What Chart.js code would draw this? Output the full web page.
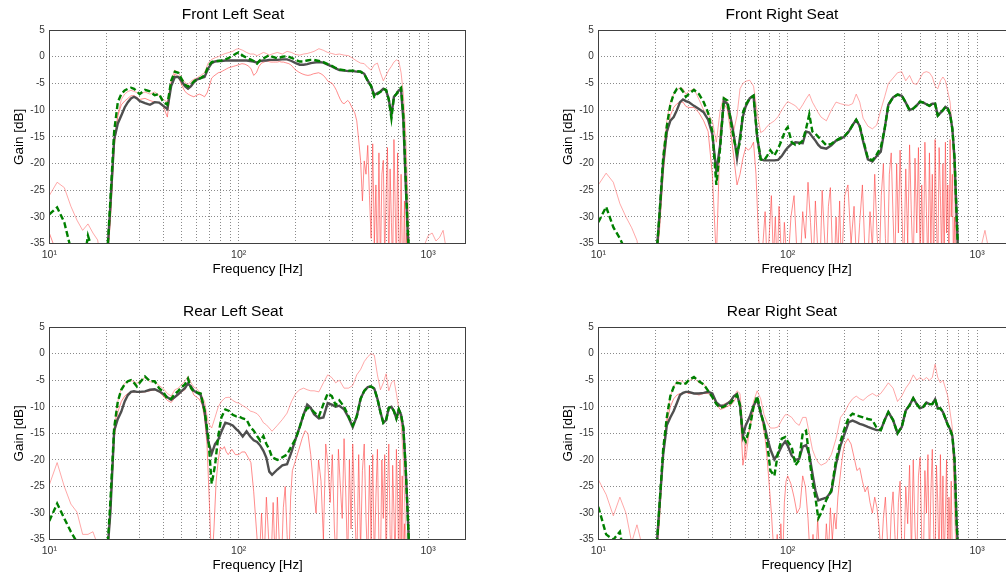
<!DOCTYPE html>
<html><head><meta charset="utf-8">
<script src="https://cdn.jsdelivr.net/npm/chart.js@4.4.0/dist/chart.umd.min.js"></script>
<style>
html,body{margin:0;padding:0;background:#fff;overflow:hidden;width:1006px;height:578px;position:relative;}
canvas{position:absolute;}
</style></head><body>
<canvas id="c0" width="470" height="280" style="left:0px;top:0px"></canvas>
<canvas id="c1" width="470" height="280" style="left:549px;top:0px"></canvas>
<canvas id="c2" width="470" height="279" style="left:0px;top:297px"></canvas>
<canvas id="c3" width="470" height="279" style="left:549px;top:297px"></canvas>
<script>
const TITLES = ['Front Left Seat','Front Right Seat','Rear Left Seat','Rear Right Seat'];
const Y_TICKS = [-35,-30,-25,-20,-15,-10,-5,0,5];
const X_TICKS = [10,20,30,40,50,60,70,80,90,100,200,300,400,500,600,700,800,900,1000];
const X_LABELS = {10:'10\u00B9',100:'10\u00B2',1000:'10\u00B3'};

// frequency grid of the smooth curves
const FREQ = [10,11,12,13,14,15,16,17,18,19,20,
21,22,23,24,25,26,27,28,29,30,
32,34,36,38,40,42,44,46,48,50,52,54,56,58,60,
63,66,69,72,75,78,81,85,89,93,97,
100,105,110,115,120,125,130,135,140,145,150,
160,170,180,190,200,210,220,230,240,250,
265,280,295,310,325,340,
360,380,400,420,440,460,480,500,520,540,560,580,600,620,640,660,680,700,720,740,760,780,800,
850,900,950,1000,1050,1100,1150,1200,1300,1400,1500,1585];

// finer frequency grid of the noisy lower red curves
const FREQ_LO = [10,11,12,13,14,15,16,17,18,19,20,
21,22,23,24,25,26,27,28,29,30,
32,34,36,38,40,42,44,46,48,50,52,54,56,58,60,
62,64,66,68,70,72,74,76,78,80,82,84,86,88,90,92,94,96,98,100,
104,108,112,116,120,124,128,132,136,140,144,148,152,156,160,164,168,172,176,180,184,188,192,196,200,
208,216,224,232,240,248,256,264,272,280,288,296,304,312,320,328,336,344,352,360,368,376,384,392,400,
410,420,430,440,450,460,470,480,490,500,510,520,530,540,550,560,570,580,590,600,
610,620,630,640,650,660,670,680,690,700,710,720,730,740,750,760,770,780,790,800,
850,900,950,1000,1050,1100,1150,1200,1300,1400,1500,1585];

// ---------- Front Left ----------
const FL_UPPER = [-26,-23.5,-24.5,-28,-30.6,-32.5,-31.3,-33,-34.3,-40,-40,
-30,-16,-11,-8,-7,-6.5,-6.3,-6.5,-6.7,-7,
-6.6,-7,-6.6,-7.2,-8,-8.5,-4.5,-2.5,-3,-4,-4.8,-5.2,-4.6,-4.2,-4,
-3.5,-3,-1.2,-0.5,-0.2,0,0.3,0.6,0.8,1,1.4,
1.5,1.2,0.8,0.5,0.5,0.2,0.5,0.8,0.6,0.3,0.5,
0.8,0.5,1,0.8,0.4,0.3,0.5,0.6,0.8,1,
1.5,1.2,0.8,0.6,0.4,0.5,
0.3,0.2,-0.3,-0.8,-1.2,-1.3,-2,-2.5,-1.5,-1.2,-3,-4.5,-3.5,-2.5,-1.8,-1,-0.6,-0.8,-3,-7,-14,-25,-40,
-40,-40,-35.5,-33.5,-33,-34.5,-33.8,-32.5,-40,-40,-40,-40];
const FL_LOWER = [-33,-37,-40,-40,-40,-40,-40,-40,-40,-40,-40,
-31,-17,-11,-9,-8.3,-7.8,-7.3,-7.3,-7.6,-8,
-7.8,-8.2,-8.5,-8.6,-9.3,-11.3,-5,-3.2,-3.7,-5.3,-6.5,-7,-7.3,-7.5,-7.2,
-7,-7.2,-7.5,-6.8,-5.5,-4,-3.6,-3.3,-3,-2.9,-2.7,-2.5,-2.3,-2.1,-2,-1.9,-1.8,-1.7,-1.6,-1.5,
-1.3,-1.4,-1.7,-2.2,-3.5,-3,-1.8,-1.2,-1,-0.8,-0.9,-1,-1,-1,-1,-0.9,-1,-1,-1.1,-1.2,-1.3,-1.5,-1.8,-2.2,-2.5,
-2.9,-3.2,-3.4,-3.5,-3.4,-3.2,-3.1,-3,-3.2,-3.5,-4,-4.6,-4.8,-5,-5.6,-6.3,-7.2,-8,-8.6,-8.8,-8.5,-8.2,-8.5,-9.2,-9.8,
-10.5,-12,-15.6,-19.4,-27,-19.5,-22,-16.6,-26,-34,-16.3,-35,-24,-40,-18,-40,-22,-19.4,-38,-26,
-17,-40,-21,-31,-40,-15.5,-28,-40,-18,-33,-40,-22,-36,-40,-27,-40,-33,-40,-40,-40,
-40,-40,-40,-40,-40,-40,-40,-40,-40,-40,-40,-40];
const FL_MEAN = [-40,-40,-40,-40,-40,-40,-40,-40,-40,-40,-40,
-28,-15.5,-12.5,-11,-9.5,-8.5,-7.8,-7.5,-7.8,-8.3,
-8.7,-9,-8.5,-8.6,-9.2,-9.8,-5.5,-3.8,-3.8,-4.6,-5.5,-6,-5.5,-4.8,-4.3,
-4,-3.8,-2.2,-1.2,-0.9,-0.8,-0.8,-0.7,-0.7,-0.7,-0.7,
-0.7,-0.7,-0.7,-0.8,-0.9,-1.1,-0.8,-0.7,-0.7,-0.6,-0.6,
-0.6,-0.5,-0.5,-0.8,-1.2,-1.5,-1.5,-1.4,-1.2,-1.1,
-1,-1.1,-1.5,-1.8,-2.2,-2.5,
-2.6,-2.7,-2.7,-2.8,-2.8,-3.2,-4.5,-5.5,-7.2,-6.8,-6.5,-6,-6.3,-8,-11,-7.5,-7,-6.3,-6.2,-12,-23,-33,-40,
-40,-40,-40,-40,-40,-40,-40,-40,-40,-40,-40,-40];
const FL_GREEN = [-29.5,-28.2,-31,-36,-40,-40,-33.5,-36.5,-40,-40,-40,
-27,-14,-8.5,-7,-6.3,-6,-5.8,-6,-6.5,-7,
-6.2,-6.5,-7.2,-7,-8.5,-9,-4.5,-2.8,-3,-4.2,-5.2,-5.6,-5.2,-4.6,-4.2,
-4,-3.5,-1.8,-1,-0.8,-0.8,-0.7,-0.5,-0.2,0.2,0.6,
0.8,0.2,-0.2,-0.5,-0.8,-1.3,-0.6,-0.3,0,0.3,0,
-0.3,0,0.1,-0.2,-0.6,-0.9,-0.9,-0.7,-0.6,-0.6,
-0.8,-1,-1.4,-1.7,-2.1,-2.4,
-2.5,-2.6,-2.6,-2.7,-2.8,-3.3,-4.5,-5.5,-7.5,-7,-6.6,-6,-6.2,-8,-11.5,-7.5,-7,-6.2,-5.8,-11,-22,-32,-40,
-40,-40,-40,-40,-40,-40,-40,-40,-40,-40,-40,-40];

// ---------- Front Right ----------
const FR_UPPER = [-24,-21.8,-23.5,-27.5,-30,-32,-34.4,-40,-40,-40,-40,
-32,-18,-12,-8.5,-7,-6.2,-5.8,-6,-7,-6.5,
-6,-8,-10,-10.8,-12,-16,-10,-7.5,-8.5,-11,-13.7,-11,-6,-5,-4.6,
-4.4,-5.5,-10.5,-14.2,-13.8,-13,-12.5,-12,-11.2,-10,-9,
-8.4,-8.8,-9.2,-10,-9,-7.9,-7,-8.5,-9.5,-10.5,-11.3,
-12,-10,-8.5,-8.8,-9,-9.1,-8.8,-7,-8.5,-11.5,
-13,-13.5,-12.8,-10,-7.5,-5,
-4,-3,-2.8,-4.5,-3.5,-5,-5.2,-4,-3,-2.8,-3,-3.8,-5.5,-6,-4.5,-3.8,-4.5,-6.5,-8.5,-14,-25,-40,-40,
-40,-40,-40,-40,-35.5,-32.5,-36,-40,-40,-40,-40,-40];
const FR_LOWER = [-40,-40,-40,-40,-40,-40,-40,-40,-40,-40,-40,
-33,-22,-15,-11,-9.5,-8.8,-8.5,-8.5,-9.3,-9.5,
-9.5,-10.5,-12,-14,-22,-38,-14,-8.8,-9.8,-14,-19,-24,-22,-19,-17,
-17.5,-17,-16,-22,-33,-40,-35,-29,-40,-33,-26,-38,-30,-40,-28,-35,-40,-31,-36,-40,
-30,-26,-37,-40,-29,-34,-23.5,-31,-40,-27,-36,-40,-25,-33,-40,-28,-24.5,-36,-40,-30,-38,-27,-40,-33,-26,
-24,-35,-28,-40,-31,-24,-37,-40,-29,-36,-22,-33,-40,-26,-20,-34,-40,-22,-18,-30,-40,-20,-33,-17.5,-28,
-40,-21,-35,-16.5,-30,-40,-19,-33,-17,-38,-24,-40,-16,-29,-40,-18,-35,-22,-40,-15.5,
-31,-40,-17,-26,-38,-20,-40,-16,-33,-24,-40,-15.5,-30,-22,-38,-30,-40,-40,-40,-40,
-40,-40,-40,-40,-40,-40,-40,-40,-40,-40,-40,-40];
const FR_MEAN = [-40,-40,-40,-40,-40,-40,-40,-40,-40,-40,-40,
-30,-20,-14,-12,-11.3,-10,-8.5,-8,-8.3,-8.5,
-9.2,-9.8,-10.4,-11.8,-14.5,-21.5,-16.5,-8.3,-8.8,-11.5,-14.8,-19,-15,-11.2,-9.3,
-7.8,-7.3,-15,-19.2,-19.4,-19.4,-19.4,-19.4,-19.3,-18.6,-17.6,
-17,-16.3,-16,-16.1,-16.2,-14,-14.2,-15,-15.7,-16.5,-17,
-17.2,-16.6,-15.7,-15.4,-14.9,-14,-12.8,-11.8,-13,-15.8,
-19.2,-19.6,-18.6,-17.8,-13.5,-9,
-7.6,-7.1,-7.3,-8.6,-10,-9.7,-9.1,-8.4,-8.6,-8.9,-9.2,-8.8,-8.8,-11,-10.5,-10,-9.4,-9.7,-10.8,-13.5,-19,-30,-40,
-40,-40,-40,-40,-40,-40,-40,-40,-40,-40,-40,-40];
const FR_GREEN = [-31,-28.1,-31.9,-34,-36.5,-40,-40,-40,-40,-40,-40,
-30,-19,-13,-9,-7,-6,-5.8,-6.5,-7.5,-7,
-6.2,-7,-8.5,-10.5,-14,-24,-17,-7.8,-8.2,-12,-15.5,-18,-16,-10.5,-9,
-7.8,-7.3,-15,-19.2,-19.4,-18.5,-17.5,-18.5,-17.2,-15.6,-13.8,
-13.2,-16,-16.5,-16.3,-15.7,-13.5,-10.8,-14,-14.4,-15,-15.5,
-16.6,-16.3,-15.7,-15.2,-14.8,-14,-12.8,-11.8,-13,-15.5,
-19,-19.4,-18.3,-17,-13.5,-9,
-7.6,-7.1,-7.3,-8.6,-10,-9.7,-9.1,-8.4,-8.6,-8.9,-9.2,-8.8,-8.8,-11,-10.5,-10,-9.4,-9.7,-10.8,-13.5,-19,-30,-40,
-40,-40,-40,-40,-40,-40,-40,-40,-40,-40,-40,-40];

// ---------- Rear Left ----------
const RL_UPPER = [-24.7,-20.5,-25,-28.3,-29.8,-34,-34,-33.5,-36,-40,-40,
-29,-14,-9,-6.5,-5.6,-5.2,-5,-5.3,-5.6,-5.2,
-4.5,-5.3,-5.3,-6,-6.6,-7.5,-8,-6.8,-6.5,-5.8,-5.2,-4.3,-5.5,-6.3,-6.6,
-7.5,-9,-13,-14,-12,-10,-9,-8.3,-8.2,-8.8,-9.2,
-9.3,-9.8,-10.2,-10.8,-11,-11.3,-12,-13,-13.4,-14,-14.6,
-13.5,-12.4,-11.2,-9,-7.5,-6.8,-6.5,-6.8,-7,-7,
-7.2,-5.5,-4,-4.5,-5.5,-5,
-6.5,-6.5,-6,-4,-3,-1.5,-0.6,0,-0.3,-4,-6.8,-5.5,-3.8,-7,-5.5,-5,-7.5,-10.3,-13,-20,-33,-40,-40,
-40,-40,-40,-40,-40,-40,-40,-40,-40,-40,-40,-40];
const RL_LOWER = [-40,-40,-40,-40,-40,-40,-40,-40,-40,-40,-40,
-31,-16,-11,-9,-8,-7.5,-7.3,-7.2,-7.2,-7.3,
-7.2,-7,-6.8,-7.2,-8,-8.8,-9.2,-8.3,-7.8,-7.2,-6.8,-5.5,-6.5,-7.8,-8.2,
-8.6,-9.5,-12,-17,-28,-40,-33,-24,-20,-17.6,-18,-17.5,-18.5,-19,-18.5,-18,-18.5,-19,-19,-19,
-18.5,-18.5,-19.5,-20.5,-26,-33,-40,-30,-40,-27,-35,-40,-28,-40,-27,-36,-40,-29,-25,-34,-40,-27,-22,-21,-20,
-18,-16,-14.5,-15,-19,-25,-30,-20,-24,-35,-17,-21,-28,-19,-33,-40,-18,-25,-31,-16,-27,-40,-20,-33,-17,
-29,-40,-19,-37,-22,-17,-31,-40,-21,-35,-19,-40,-27,-18,-36,-40,-20,-31,-19,-40,
-26,-17,-34,-40,-21,-30,-40,-18,-27,-40,-20,-35,-23,-40,-32,-40,-40,-40,-40,-40,
-40,-40,-40,-40,-40,-40,-40,-40,-40,-40,-40,-40];
const RL_MEAN = [-40,-40,-40,-40,-40,-40,-40,-40,-40,-40,-40,
-30,-14.5,-12.3,-10.9,-9,-7.8,-7.2,-7.1,-7.2,-7.2,
-7.1,-6.8,-6.7,-7.1,-7.6,-8.2,-8.7,-8.2,-7.6,-7,-6.5,-5.6,-6.2,-7,-7.3,
-7.8,-10.7,-16.5,-18.8,-17,-16.2,-14.7,-13,-13.2,-13.5,-14.2,
-14.6,-15.6,-14.6,-15.6,-16.3,-16.6,-17.3,-18.3,-19.6,-22.2,-22.8,
-21.8,-21,-20.8,-18.5,-16,-13.8,-11.5,-9.6,-10.2,-11.4,
-12.2,-12,-9.3,-9.6,-10,-9.8,
-10.5,-12,-13.8,-11.8,-8.5,-7,-6.3,-6.2,-6.6,-8.5,-11,-13,-12.5,-10.2,-10,-10.8,-12.2,-10.5,-11.5,-14,-21,-30,-40,
-40,-40,-40,-40,-40,-40,-40,-40,-40,-40,-40,-40];
const RL_GREEN = [-31.5,-28.2,-31,-33.5,-35.5,-40,-40,-40,-40,-40,-40,
-28,-14,-9,-6.8,-5.8,-5.2,-5,-5.5,-6.2,-5.5,
-4.3,-5.2,-5.2,-6.5,-7.2,-8.5,-8.5,-7.6,-7,-6.3,-5.8,-4.7,-6.5,-7.2,-7.3,
-7.5,-10.7,-15.5,-24.5,-21,-15.5,-12,-10.5,-10.8,-11.5,-11.8,
-11.8,-12.2,-12.4,-13.8,-14.5,-15.5,-16.4,-15.5,-17,-18,-19.5,
-20,-19.5,-19,-17.4,-16,-13.8,-11.5,-10.2,-10.4,-11,
-11.8,-9.5,-7.5,-8,-9.7,-8.8,
-10,-11.8,-13.5,-11.8,-8.5,-7,-6.3,-6.2,-6.6,-8.5,-11,-13,-12.5,-10.2,-10,-10.8,-12.2,-10.5,-11.5,-14,-21,-30,-40,
-40,-40,-40,-40,-40,-40,-40,-40,-40,-40,-40,-40];

// ---------- Rear Right ----------
const RR_UPPER = [-23.7,-26.5,-30.5,-27,-30,-35.5,-32.2,-36,-40,-40,-40,
-30,-18,-12,-8,-6.3,-5.3,-5,-5.3,-5.8,-5.2,
-4.6,-5.5,-5.7,-6.8,-8,-9.2,-10,-9.5,-9.2,-8.8,-8.2,-7,-7.5,-14,-20,
-14,-9,-7,-8.5,-11.5,-13,-14,-14,-13.8,-12.5,-11.5,
-11.5,-12,-13,-13.5,-12,-12,-15,-18,-19.5,-20.5,-21,
-20.5,-19,-16,-12,-11,-9.5,-8.5,-8,-8.5,-8.8,
-8,-7.5,-8,-7.5,-6.5,-5.5,
-6.5,-9,-8,-6.5,-5.5,-4,-5,-4.5,-5,-4.5,-5,-4.5,-2,-4.5,-5.5,-5,-6.5,-8,-11,-14,-30,-40,-40,
-40,-40,-40,-40,-40,-40,-40,-40,-40,-40,-40,-40];
const RR_LOWER = [-40,-40,-40,-40,-40,-40,-40,-40,-40,-40,-40,
-32,-19,-13,-10,-8.5,-7.8,-7.5,-7.5,-7.3,-7.5,
-7.5,-7.8,-7.5,-7.5,-8,-9.5,-10.5,-10.3,-9.9,-9.7,-9,-8,-10,-21,-17.5,
-15,-13,-10.5,-9,-9.5,-11,-13.5,-16,-20,-25,-30,-36,-40,-34,-40,-32,-40,-28,-24,-23,
-24.5,-27,-30,-29,-23,-25,-31,-40,-34,-40,-31,-40,-35,-40,-32,-38,-29,-35,-30,-33,-27,-24,-21,-18.5,-17,
-16,-17,-19.5,-22,-21.5,-24,-26,-25,-28,-30,-27,-29,-33,-38,-31,-27,-35,-40,-30,-26,-34,-40,-28,-24,-36,
-40,-25,-32,-21,-38,-20,-33,-40,-23,-19.5,-35,-40,-22,-30,-19,-40,-26,-18,-34,-40,
-21,-28,-40,-19,-36,-23,-40,-30,-20,-40,-27,-35,-24,-40,-40,-40,-40,-40,-40,-40,
-40,-40,-40,-40,-40,-40,-40,-40,-40,-40,-40,-40];
const RR_MEAN = [-40,-40,-40,-40,-40,-40,-40,-40,-40,-40,-40,
-29,-19,-13.5,-12,-10.8,-9.3,-7.8,-7.4,-7.2,-7.2,
-7.5,-7.5,-7.4,-7.2,-7.5,-9.2,-9.8,-9.8,-9.4,-8.9,-8,-7.6,-9.8,-15.5,-13.5,
-11.9,-9.8,-8.6,-11.2,-13.2,-15.8,-18,-19.9,-18.8,-17.4,-16.5,
-17.3,-19.2,-20,-19.8,-17.5,-17.2,-19,-22.5,-25.7,-27.6,-27.4,
-27.1,-26,-20.8,-17.3,-15,-12.9,-12.6,-12.9,-13.2,-13.4,
-13.8,-14.1,-14.4,-14.4,-12.5,-11,
-12.5,-15,-13.8,-10.7,-9.7,-8.4,-9.5,-10.3,-10,-9.2,-9.5,-9.5,-8.6,-10.3,-10.3,-11,-12.2,-13.4,-14.2,-15.5,-20,-32,-40,
-40,-40,-40,-40,-40,-40,-40,-40,-40,-40,-40,-40];
const RR_GREEN = [-28.8,-34,-35,-33.5,-40,-40,-40,-40,-40,-40,-40,
-29,-18,-12,-8,-6.3,-5.5,-5.6,-5.8,-5.6,-5,
-4.4,-5.2,-5.8,-7,-8.2,-9.5,-10.2,-10,-9.6,-9.3,-8.5,-7.8,-9.7,-15.5,-16.5,
-14,-10,-8,-11,-13.5,-17,-22,-23,-18.5,-16,-15.7,
-16.5,-17.6,-21,-20,-15,-14.5,-19.5,-24,-27,-31,-30,
-27.5,-25.7,-20,-16.5,-14,-12,-11.3,-11.6,-11.8,-12,
-12.3,-12.5,-14,-14.4,-12.5,-11,
-12.5,-15,-13.8,-10.7,-9.7,-8.4,-9.5,-10.3,-10,-9.2,-9.5,-9.5,-8.6,-10.3,-10.3,-11,-12.2,-13.4,-14.2,-15.5,-20,-32,-40,
-40,-40,-40,-40,-40,-40,-40,-40,-40,-40,-40,-40];

const PANELS = [
  {id:'c0', title:TITLES[0], upper:FL_UPPER, lower:FL_LOWER, mean:FL_MEAN, green:FL_GREEN},
  {id:'c1', title:TITLES[1], upper:FR_UPPER, lower:FR_LOWER, mean:FR_MEAN, green:FR_GREEN},
  {id:'c2', title:TITLES[2], upper:RL_UPPER, lower:RL_LOWER, mean:RL_MEAN, green:RL_GREEN},
  {id:'c3', title:TITLES[3], upper:RR_UPPER, lower:RR_LOWER, mean:RR_MEAN, green:RR_GREEN}
];

PANELS.forEach(p => {
  ['upper','mean','green'].forEach(k => {
    if (p[k].length !== FREQ.length) throw new Error(p.title + ' ' + k + ' has ' + p[k].length + ' values, expected ' + FREQ.length);
  });
  if (p.lower.length !== FREQ_LO.length) throw new Error(p.title + ' lower has ' + p.lower.length + ' values, expected ' + FREQ_LO.length);
});

const FONT = "'Liberation Sans', Arial, Helvetica, sans-serif";

const boxPlugin = {
  id: 'box',
  afterDatasetsDraw(chart) {
    const {ctx, chartArea: a} = chart;
    ctx.save();
    ctx.strokeStyle = '#404040';
    ctx.lineWidth = 1;
    const l = Math.round(a.left) + 0.5, t = Math.round(a.top) + 0.5;
    const r = Math.round(a.right) - 0.5, b = Math.round(a.bottom) - 0.5;
    ctx.strokeRect(l, t, r - l, b - t);
    ctx.restore();
  }
};

const toXY = (freqs, arr) => freqs.map((f, i) => ({x: f, y: arr[i]}));

function build(p) {
  const canvas = document.getElementById(p.id);
  return new Chart(canvas, {
    type: 'line',
    data: {
      datasets: [
        {data: toXY(FREQ, p.green), borderColor: '#008000', borderWidth: 2.4, borderDash: [6, 3], order: 0},
        {data: toXY(FREQ, p.mean), borderColor: '#4f4f4f', borderWidth: 2.4, order: 1},
        {data: toXY(FREQ, p.upper), borderColor: 'rgba(255,110,110,0.6)', borderWidth: 1, order: 2},
        {data: toXY(FREQ_LO, p.lower), borderColor: 'rgba(255,70,70,0.62)', borderWidth: 1, order: 3}
      ]
    },
    options: {
      responsive: false,
      animation: false,
      devicePixelRatio: 1,
      events: [],
      elements: {point: {radius: 0}, line: {tension: 0}},
      datasets: {line: {clip: 0, spanGaps: false}},
      layout: {padding: {left: 0, right: 4, top: 0, bottom: 0}},
      plugins: {
        legend: {display: false},
        tooltip: {enabled: false},
        title: {
          display: true, text: p.title, color: '#000',
          font: {size: 15.5, weight: 'normal', family: FONT, lineHeight: 1.2},
          padding: {top: 5.5, bottom: 5.9}
        }
      },
      scales: {
        x: {
          type: 'logarithmic', min: 10, max: 1584.9,
          afterBuildTicks: s => { s.ticks = X_TICKS.map(v => ({value: v})); },
          afterFit: s => { s.height = 36.3; },
          ticks: {
            autoSkip: false, maxRotation: 0, minRotation: 0, padding: 5,
            color: '#333', font: {size: 10.5, family: FONT},
            callback: v => X_LABELS[v] || ''
          },
          grid: {color: '#8a8a8a', lineWidth: 1, drawTicks: false, borderDash: [1, 2]},
          border: {display: false, dash: [1, 2]},
          title: {display: true, text: 'Frequency [Hz]', color: '#000',
                  font: {size: 13.3, family: FONT, lineHeight: 1.2}, padding: {top: 0, bottom: 2.2}}
        },
        y: {
          min: -35, max: 5,
          afterBuildTicks: s => { s.ticks = Y_TICKS.map(v => ({value: v})); },
          afterFit: s => { s.width = 49.3; },
          ticks: {padding: 4.5, color: '#333', font: {size: 10, family: FONT}},
          grid: {color: '#8a8a8a', lineWidth: 1, drawTicks: false, borderDash: [1, 2]},
          border: {display: false, dash: [1, 2]},
          title: {display: true, text: 'Gain [dB]', color: '#000',
                  font: {size: 13.5, family: FONT, lineHeight: 1.2}, padding: {top: 11, bottom: 0}}
        }
      }
    },
    plugins: [boxPlugin]
  });
}

PANELS.forEach(build);
</script>
</body></html>
